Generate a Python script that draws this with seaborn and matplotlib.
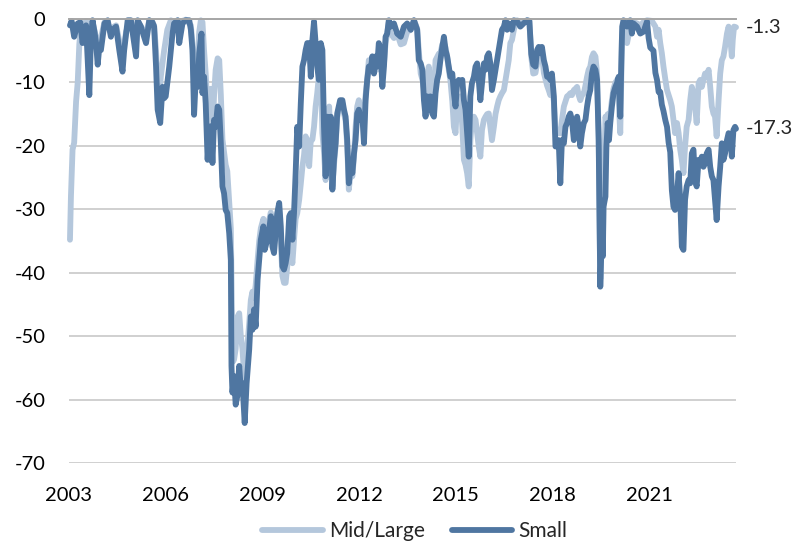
import numpy as np
import pandas as pd
import matplotlib
matplotlib.use("Agg")
import matplotlib.pyplot as plt
import seaborn as sns
from matplotlib.lines import Line2D

# ── Data (drawdown from peak, %) ─────────────────────────────────────────────
small_years = [
    2003.03, 2003.08, 2003.16, 2003.27, 2003.35, 2003.42, 2003.53, 2003.63, 2003.68, 2003.73,
    2003.79, 2003.84, 2003.89, 2003.94, 2003.99, 2004.10, 2004.20, 2004.30, 2004.35, 2004.46,
    2004.56, 2004.66, 2004.71, 2004.77, 2004.82, 2004.92, 2005.00, 2005.08, 2005.13, 2005.23,
    2005.39, 2005.49, 2005.59, 2005.64, 2005.70, 2005.75, 2005.83, 2005.90, 2005.95, 2006.00,
    2006.11, 2006.21, 2006.26, 2006.37, 2006.42, 2006.52, 2006.62, 2006.73, 2006.78, 2006.83,
    2006.88, 2006.93, 2006.99, 2007.04, 2007.11, 2007.14, 2007.19, 2007.24, 2007.30, 2007.35,
    2007.40, 2007.45, 2007.50, 2007.55, 2007.61, 2007.66, 2007.71, 2007.76, 2007.81, 2007.86,
    2007.91, 2007.97, 2008.02, 2008.04, 2008.07, 2008.12, 2008.17, 2008.22, 2008.28, 2008.33,
    2008.38, 2008.45, 2008.51, 2008.59, 2008.64, 2008.69, 2008.74, 2008.79, 2008.85, 2008.90,
    2008.95, 2009.03, 2009.07, 2009.15, 2009.21, 2009.26, 2009.31, 2009.36, 2009.41, 2009.46,
    2009.52, 2009.57, 2009.62, 2009.67, 2009.72, 2009.77, 2009.83, 2009.88, 2009.93, 2009.98,
    2010.03, 2010.08, 2010.14, 2010.19, 2010.24, 2010.29, 2010.34, 2010.39, 2010.45, 2010.50,
    2010.55, 2010.60, 2010.65, 2010.70, 2010.75, 2010.81, 2010.86, 2010.91, 2010.96, 2011.01,
    2011.07, 2011.12, 2011.17, 2011.22, 2011.27, 2011.32, 2011.41, 2011.48, 2011.53, 2011.58,
    2011.63, 2011.68, 2011.74, 2011.79, 2011.84, 2011.89, 2011.94, 2011.99, 2012.05, 2012.10,
    2012.15, 2012.20, 2012.25, 2012.30, 2012.36, 2012.41, 2012.46, 2012.51, 2012.56, 2012.61,
    2012.67, 2012.72, 2012.77, 2012.82, 2012.87, 2012.92, 2012.98, 2013.08, 2013.18, 2013.29,
    2013.39, 2013.49, 2013.60, 2013.70, 2013.80, 2013.85, 2013.91, 2013.96, 2014.01, 2014.06,
    2014.11, 2014.16, 2014.21, 2014.27, 2014.32, 2014.37, 2014.42, 2014.47, 2014.52, 2014.58,
    2014.63, 2014.68, 2014.73, 2014.78, 2014.83, 2014.89, 2014.94, 2014.99, 2015.04, 2015.09,
    2015.14, 2015.20, 2015.25, 2015.30, 2015.35, 2015.40, 2015.45, 2015.50, 2015.56, 2015.61,
    2015.66, 2015.71, 2015.76, 2015.81, 2015.87, 2015.92, 2015.97, 2016.02, 2016.07, 2016.12,
    2016.18, 2016.23, 2016.28, 2016.33, 2016.38, 2016.43, 2016.49, 2016.54, 2016.59, 2016.64,
    2016.69, 2016.74, 2016.80, 2016.90, 2017.00, 2017.10, 2017.21, 2017.28, 2017.34, 2017.40,
    2017.47, 2017.52, 2017.57, 2017.62, 2017.67, 2017.73, 2017.78, 2017.83, 2017.88, 2017.93,
    2017.98, 2018.04, 2018.09, 2018.14, 2018.19, 2018.24, 2018.29, 2018.35, 2018.40, 2018.45,
    2018.50, 2018.55, 2018.60, 2018.66, 2018.71, 2018.76, 2018.81, 2018.86, 2018.91, 2018.97,
    2019.02, 2019.07, 2019.12, 2019.17, 2019.22, 2019.27, 2019.33, 2019.38, 2019.43, 2019.46,
    2019.48, 2019.53, 2019.56, 2019.58, 2019.64, 2019.67, 2019.71, 2019.75, 2019.79, 2019.84,
    2019.89, 2019.95, 2020.00, 2020.05, 2020.10, 2020.13, 2020.16, 2020.20, 2020.31, 2020.41,
    2020.46, 2020.51, 2020.62, 2020.72, 2020.82, 2020.93, 2020.98, 2021.03, 2021.13, 2021.19,
    2021.24, 2021.29, 2021.34, 2021.39, 2021.44, 2021.50, 2021.55, 2021.60, 2021.65, 2021.70,
    2021.75, 2021.80, 2021.86, 2021.91, 2021.96, 2022.01, 2022.06, 2022.11, 2022.16, 2022.22,
    2022.27, 2022.32, 2022.37, 2022.42, 2022.47, 2022.53, 2022.58, 2022.63, 2022.68, 2022.73,
    2022.78, 2022.84, 2022.89, 2022.94, 2022.99, 2023.04, 2023.09, 2023.15, 2023.20, 2023.25,
    2023.30, 2023.35, 2023.41, 2023.46, 2023.51, 2023.56, 2023.61, 2023.66, 2023.69,
]
small = [
    -1.0, -0.3, -2.8, -0.7, -0.5, -3.8, -1.0, -12.0, -3.0, -0.2,
    -2.0, -3.8, -7.2, -4.5, -4.9, -0.7, -0.2, -2.8, -1.7, -1.2,
    -4.9, -8.3, -5.0, -2.3, -0.2, -0.2, -3.0, -5.9, -0.2, -1.2,
    -3.8, -0.2, -0.5, -1.2, -7.5, -14.3, -16.4, -10.7, -12.5, -12.2,
    -7.5, -2.3, -0.7, -0.2, -3.8, -0.7, -0.2, -0.2, -1.7, -4.9,
    -15.1, -9.6, -10.7, -5.4, -2.3, -11.7, -9.1, -13.3, -22.2, -17.5,
    -16.9, -22.7, -15.9, -17.0, -13.8, -14.3, -19.6, -26.4, -27.5, -30.1,
    -30.6, -33.8, -38.0, -54.7, -58.9, -56.3, -60.8, -59.5, -54.7, -58.4,
    -57.4, -63.7, -57.4, -52.1, -46.9, -49.0, -45.8, -48.5, -41.1, -38.0,
    -34.8, -32.7, -36.4, -34.8, -33.2, -31.1, -35.9, -36.9, -33.8, -30.6,
    -29.0, -32.7, -39.0, -39.5, -38.5, -36.9, -31.1, -30.6, -34.8, -30.6,
    -24.3, -17.0, -20.1, -13.3, -7.5, -6.5, -4.9, -3.8, -3.8, -9.1,
    -3.3, -0.4, -3.8, -7.5, -9.6, -3.8, -4.9, -17.0, -24.8, -15.4,
    -20.6, -15.4, -26.9, -22.2, -19.6, -14.9, -12.8, -12.8, -14.3, -15.4,
    -19.1, -25.9, -23.3, -24.3, -21.2, -19.1, -14.9, -14.3, -15.9, -15.4,
    -19.6, -12.8, -9.6, -7.5, -8.0, -5.9, -8.6, -5.9, -7.5, -3.8,
    -4.9, -10.7, -7.5, -2.8, -2.3, -0.2, -1.2, -0.7, -2.3, -2.8,
    -1.2, -0.7, -1.7, -0.2, -1.7, -6.5, -7.0, -8.0, -12.8, -15.4,
    -12.2, -14.3, -12.2, -14.9, -15.4, -11.7, -9.6, -8.6, -6.5, -4.4,
    -2.8, -4.9, -5.9, -7.5, -9.1, -8.6, -11.7, -13.8, -10.1, -9.6,
    -10.1, -9.6, -12.8, -14.3, -18.0, -21.7, -12.2, -10.1, -9.1, -7.5,
    -7.0, -9.6, -12.8, -10.1, -7.0, -8.0, -5.9, -5.4, -7.0, -11.2,
    -9.6, -8.0, -6.5, -4.9, -3.3, -1.7, -1.2, -0.2, -1.7, -0.7,
    -1.2, -1.7, -0.2, -0.4, -1.2, -0.7, -0.2, -0.3, -5.5, -7.2,
    -7.5, -4.9, -4.4, -5.4, -4.4, -6.5, -7.5, -9.1, -9.1, -9.6,
    -8.6, -12.2, -20.1, -19.6, -19.1, -25.9, -19.1, -19.6, -17.0, -16.4,
    -15.4, -14.9, -15.9, -19.1, -18.0, -15.4, -17.0, -20.1, -18.0, -16.4,
    -15.9, -13.8, -12.2, -11.2, -8.6, -7.5, -8.0, -9.6, -19.1, -33.8,
    -42.2, -33.8, -37.4, -29.6, -28.0, -20.1, -16.4, -19.1, -16.4, -13.8,
    -11.7, -10.7, -10.1, -9.1, -15.4, -7.5, -1.2, -0.2, -1.2, -0.2,
    -2.3, -0.7, -1.2, -2.3, -2.0, -0.4, -3.0, -4.5, -5.0, -8.5,
    -9.6, -11.5, -11.5, -13.5, -14.5, -16.0, -17.0, -19.5, -21.0, -27.0,
    -29.6, -30.1, -27.5, -24.3, -28.5, -35.9, -36.4, -28.5, -26.4, -25.4,
    -25.9, -21.2, -20.6, -25.4, -26.4, -22.2, -22.7, -21.7, -23.3, -22.7,
    -21.2, -20.6, -23.3, -24.8, -25.4, -28.5, -31.7, -26.4, -23.3, -19.6,
    -22.2, -21.2, -19.1, -18.0, -18.5, -21.7, -17.5, -17.0, -17.3,
]

midlarge_years = [
    2003.03, 2003.06, 2003.11, 2003.16, 2003.22, 2003.27, 2003.32, 2003.37, 2003.42, 2003.53,
    2003.63, 2003.73, 2003.89, 2003.99, 2004.10, 2004.30, 2004.46, 2004.56, 2004.66, 2004.77,
    2004.92, 2005.08, 2005.13, 2005.39, 2005.49, 2005.64, 2005.70, 2005.75, 2005.80, 2005.85,
    2005.90, 2005.95, 2006.05, 2006.16, 2006.26, 2006.37, 2006.42, 2006.52, 2006.62, 2006.78,
    2006.83, 2006.88, 2006.93, 2006.99, 2007.04, 2007.09, 2007.14, 2007.19, 2007.24, 2007.30,
    2007.35, 2007.40, 2007.45, 2007.50, 2007.55, 2007.61, 2007.66, 2007.71, 2007.76, 2007.81,
    2007.86, 2007.91, 2007.97, 2008.02, 2008.05, 2008.09, 2008.12, 2008.17, 2008.22, 2008.28,
    2008.33, 2008.38, 2008.45, 2008.51, 2008.59, 2008.64, 2008.69, 2008.74, 2008.79, 2008.85,
    2008.90, 2008.95, 2009.03, 2009.10, 2009.15, 2009.26, 2009.31, 2009.36, 2009.41, 2009.46,
    2009.52, 2009.57, 2009.62, 2009.67, 2009.72, 2009.77, 2009.83, 2009.88, 2009.93, 2009.98,
    2010.03, 2010.08, 2010.14, 2010.19, 2010.24, 2010.29, 2010.34, 2010.39, 2010.45, 2010.50,
    2010.55, 2010.60, 2010.65, 2010.70, 2010.75, 2010.81, 2010.86, 2010.91, 2010.96, 2011.01,
    2011.07, 2011.12, 2011.17, 2011.22, 2011.27, 2011.32, 2011.41, 2011.48, 2011.53, 2011.58,
    2011.63, 2011.68, 2011.74, 2011.79, 2011.84, 2011.89, 2011.94, 2011.99, 2012.05, 2012.10,
    2012.15, 2012.20, 2012.25, 2012.30, 2012.36, 2012.41, 2012.46, 2012.51, 2012.56, 2012.61,
    2012.67, 2012.72, 2012.77, 2012.82, 2012.87, 2012.92, 2012.98, 2013.08, 2013.18, 2013.29,
    2013.39, 2013.49, 2013.60, 2013.70, 2013.80, 2013.85, 2013.91, 2013.96, 2014.01, 2014.06,
    2014.11, 2014.16, 2014.21, 2014.27, 2014.32, 2014.37, 2014.42, 2014.47, 2014.52, 2014.58,
    2014.63, 2014.68, 2014.73, 2014.78, 2014.83, 2014.89, 2014.94, 2014.99, 2015.04, 2015.09,
    2015.14, 2015.20, 2015.25, 2015.30, 2015.35, 2015.40, 2015.45, 2015.50, 2015.56, 2015.61,
    2015.66, 2015.71, 2015.76, 2015.81, 2015.87, 2015.92, 2015.97, 2016.02, 2016.07, 2016.12,
    2016.18, 2016.23, 2016.28, 2016.33, 2016.38, 2016.43, 2016.49, 2016.54, 2016.59, 2016.64,
    2016.69, 2016.74, 2016.80, 2016.85, 2016.90, 2017.00, 2017.10, 2017.21, 2017.28, 2017.34,
    2017.40, 2017.47, 2017.52, 2017.57, 2017.62, 2017.67, 2017.73, 2017.78, 2017.83, 2017.88,
    2017.93, 2017.98, 2018.04, 2018.09, 2018.14, 2018.19, 2018.24, 2018.29, 2018.35, 2018.40,
    2018.45, 2018.50, 2018.55, 2018.60, 2018.66, 2018.71, 2018.76, 2018.81, 2018.86, 2018.91,
    2018.97, 2019.02, 2019.07, 2019.12, 2019.17, 2019.22, 2019.27, 2019.33, 2019.38, 2019.43,
    2019.46, 2019.48, 2019.53, 2019.56, 2019.58, 2019.64, 2019.67, 2019.71, 2019.75, 2019.79,
    2019.84, 2019.89, 2019.95, 2020.00, 2020.05, 2020.10, 2020.13, 2020.15, 2020.20, 2020.31,
    2020.41, 2020.46, 2020.51, 2020.62, 2020.72, 2020.82, 2020.93, 2021.08, 2021.19, 2021.24,
    2021.29, 2021.34, 2021.39, 2021.44, 2021.50, 2021.55, 2021.65, 2021.70, 2021.75, 2021.80,
    2021.86, 2021.91, 2021.96, 2022.01, 2022.06, 2022.11, 2022.16, 2022.22, 2022.27, 2022.32,
    2022.37, 2022.42, 2022.47, 2022.53, 2022.58, 2022.63, 2022.68, 2022.73, 2022.78, 2022.84,
    2022.89, 2022.94, 2022.99, 2023.04, 2023.09, 2023.15, 2023.20, 2023.25, 2023.30, 2023.35,
    2023.41, 2023.46, 2023.51, 2023.56, 2023.59, 2023.63, 2023.69,
]
midlarge = [
    -34.8, -28.0, -20.6, -19.5, -13.0, -10.0, -4.0, -1.0, -1.5, -0.3,
    -3.0, -0.5, -4.0, -3.0, -0.5, -1.5, -1.0, -3.5, -6.0, -2.0,
    -0.3, -4.0, -0.3, -2.5, -0.2, -1.0, -5.0, -10.5, -12.0, -9.0,
    -7.0, -5.0, -1.7, -0.2, -0.5, -0.2, -2.5, -0.3, -0.1, -1.0,
    -4.0, -10.0, -6.0, -7.0, -2.0, -0.2, -0.5, -5.0, -8.6, -15.0,
    -12.0, -11.0, -18.0, -12.0, -8.0, -6.2, -6.5, -12.0, -19.0, -21.0,
    -23.0, -24.0, -29.0, -33.0, -45.0, -54.0, -53.7, -52.0, -47.0, -46.4,
    -50.0, -52.0, -57.4, -53.0, -48.0, -44.3, -43.0, -44.0, -42.0, -38.0,
    -35.0, -33.0, -31.5, -34.0, -33.0, -30.5, -34.0, -35.0, -33.0, -31.0,
    -30.0, -35.0, -40.5, -41.6, -41.6, -39.0, -35.0, -37.0, -38.5, -34.8,
    -31.5, -30.6, -28.5, -26.0, -23.3, -21.5, -18.5, -19.5, -23.2, -19.1,
    -19.0, -17.0, -13.8, -11.7, -9.1, -7.5, -18.0, -21.0, -25.4, -17.0,
    -13.8, -20.1, -26.4, -23.0, -20.0, -15.5, -13.3, -13.3, -14.9, -16.0,
    -20.0, -26.9, -24.0, -24.8, -21.7, -17.0, -13.8, -12.8, -14.3, -15.0,
    -17.0, -12.0, -9.6, -6.5, -7.0, -5.9, -8.0, -6.5, -8.0, -5.4,
    -6.5, -8.0, -7.0, -3.8, -2.3, -0.5, -2.3, -3.0, -2.3, -4.0,
    -3.8, -2.0, -1.7, -0.2, -1.5, -5.0, -8.6, -9.5, -11.0, -14.3,
    -9.0, -7.5, -10.0, -14.9, -12.0, -6.5, -6.0, -5.5, -5.4, -4.0,
    -3.8, -4.5, -5.9, -8.0, -9.6, -13.0, -17.0, -18.0, -12.8, -12.5,
    -12.2, -17.0, -22.2, -23.0, -24.3, -26.4, -19.1, -15.9, -15.4, -15.9,
    -18.0, -20.1, -21.7, -17.5, -15.9, -15.4, -15.0, -14.9, -17.0, -19.1,
    -17.0, -15.0, -13.8, -12.8, -12.2, -11.7, -11.2, -9.6, -8.0, -6.5,
    -3.8, -3.3, -1.7, -0.7, -0.2, -0.7, -0.5, -0.2, -0.3, -6.0,
    -8.6, -8.5, -7.0, -5.5, -6.0, -5.5, -8.5, -9.5, -10.5, -11.2,
    -12.0, -10.5, -13.0, -18.0, -17.5, -18.0, -18.0, -16.0, -13.8, -13.0,
    -12.2, -12.0, -11.7, -12.0, -11.2, -11.0, -10.7, -12.0, -12.8, -12.0,
    -11.7, -10.5, -9.1, -8.0, -7.5, -6.0, -5.4, -5.9, -8.6, -18.0,
    -33.0, -41.0, -33.0, -36.0, -28.5, -15.4, -16.0, -15.0, -16.5, -15.0,
    -12.8, -11.0, -10.0, -9.6, -12.8, -18.0, -10.0, -3.3, -0.7, -3.8,
    -1.2, -2.0, -0.5, -0.7, -1.0, -0.5, -0.2, -0.3, -1.2, -2.8,
    -1.7, -3.8, -5.4, -7.5, -9.6, -11.2, -12.8, -13.8, -15.9, -18.0,
    -16.4, -18.0, -20.6, -22.2, -24.3, -20.1, -17.0, -15.9, -12.8, -10.7,
    -11.7, -13.8, -16.4, -10.1, -9.6, -10.7, -9.6, -8.6, -9.1, -8.0,
    -10.7, -13.8, -14.9, -15.4, -18.5, -12.8, -8.6, -6.5, -5.9, -4.4,
    -2.3, -1.2, -2.8, -5.9, -3.3, -1.2, -1.3,
]

series_names = ["Mid/Large", "Small"]
year_ticks = [2003, 2006, 2009, 2012, 2015, 2018, 2021]
y_ticks = [0, -10, -20, -30, -40, -50, -60, -70]

# ── Style ────────────────────────────────────────────────────────────────────
LIGHT = "#B4C7DC"
DARK = "#4F76A1"
GRID = "#C8C8C8"
FONT = ["Lato", "DejaVu Sans"]
LW = 4.2

sns.set_style("white")
plt.rcParams["font.family"] = FONT
plt.rcParams["axes.unicode_minus"] = False

df = pd.concat([
    pd.DataFrame({"year": midlarge_years, "drawdown": midlarge, "series": series_names[0]}),
    pd.DataFrame({"year": small_years, "drawdown": small, "series": series_names[1]}),
], ignore_index=True)

fig = plt.figure(figsize=(8.07, 5.44), dpi=100)
ax = fig.add_axes([69 / 807, 81 / 544, 667 / 807, 444 / 544])

sns.lineplot(data=df, x="year", y="drawdown", hue="series",
             hue_order=series_names, palette=[LIGHT, DARK],
             estimator=None, sort=False, linewidth=LW, ax=ax, legend=False)
for line in ax.lines:
    line.set_solid_joinstyle("round")
    line.set_solid_capstyle("round")
    line.set_clip_on(False)

ax.set_xlim(2003.0, small_years[-1])
ax.set_ylim(-70, 0)
ax.set_yticks(y_ticks)
ax.set_xticks(year_ticks)
ax.set_xticklabels([str(y) for y in year_ticks])
ax.yaxis.grid(True, color=GRID, linewidth=1.2)
ax.xaxis.grid(False)
ax.set_axisbelow(True)
for side in ["left", "right", "bottom"]:
    ax.spines[side].set_visible(False)
ax.spines["top"].set_color("#A6A6A6")
ax.spines["top"].set_linewidth(1.4)
ax.tick_params(axis="both", length=0, labelsize=14.5, colors="black")
ax.tick_params(axis="y", pad=17)
ax.tick_params(axis="x", pad=17)
ax.set_xlabel("")
ax.set_ylabel("")

# end-of-series labels
for vals, yrs in [(midlarge, midlarge_years), (small, small_years)]:
    ax.annotate(f"{vals[-1]:.1f}", xy=(yrs[-1], vals[-1]), xytext=(7, 0),
                textcoords="offset points", va="center", ha="left",
                fontsize=14.5, annotation_clip=False)

handles = [Line2D([], [], color=c, linewidth=LW, solid_capstyle="round")
           for c in [LIGHT, DARK]]
fig.legend(handles, series_names, loc="center", bbox_to_anchor=(0.514, 0.024),
           ncol=2, frameon=False, fontsize=15, handlelength=2.9,
           handletextpad=0.3, columnspacing=1.3)

fig.savefig("out.png", dpi=100)
